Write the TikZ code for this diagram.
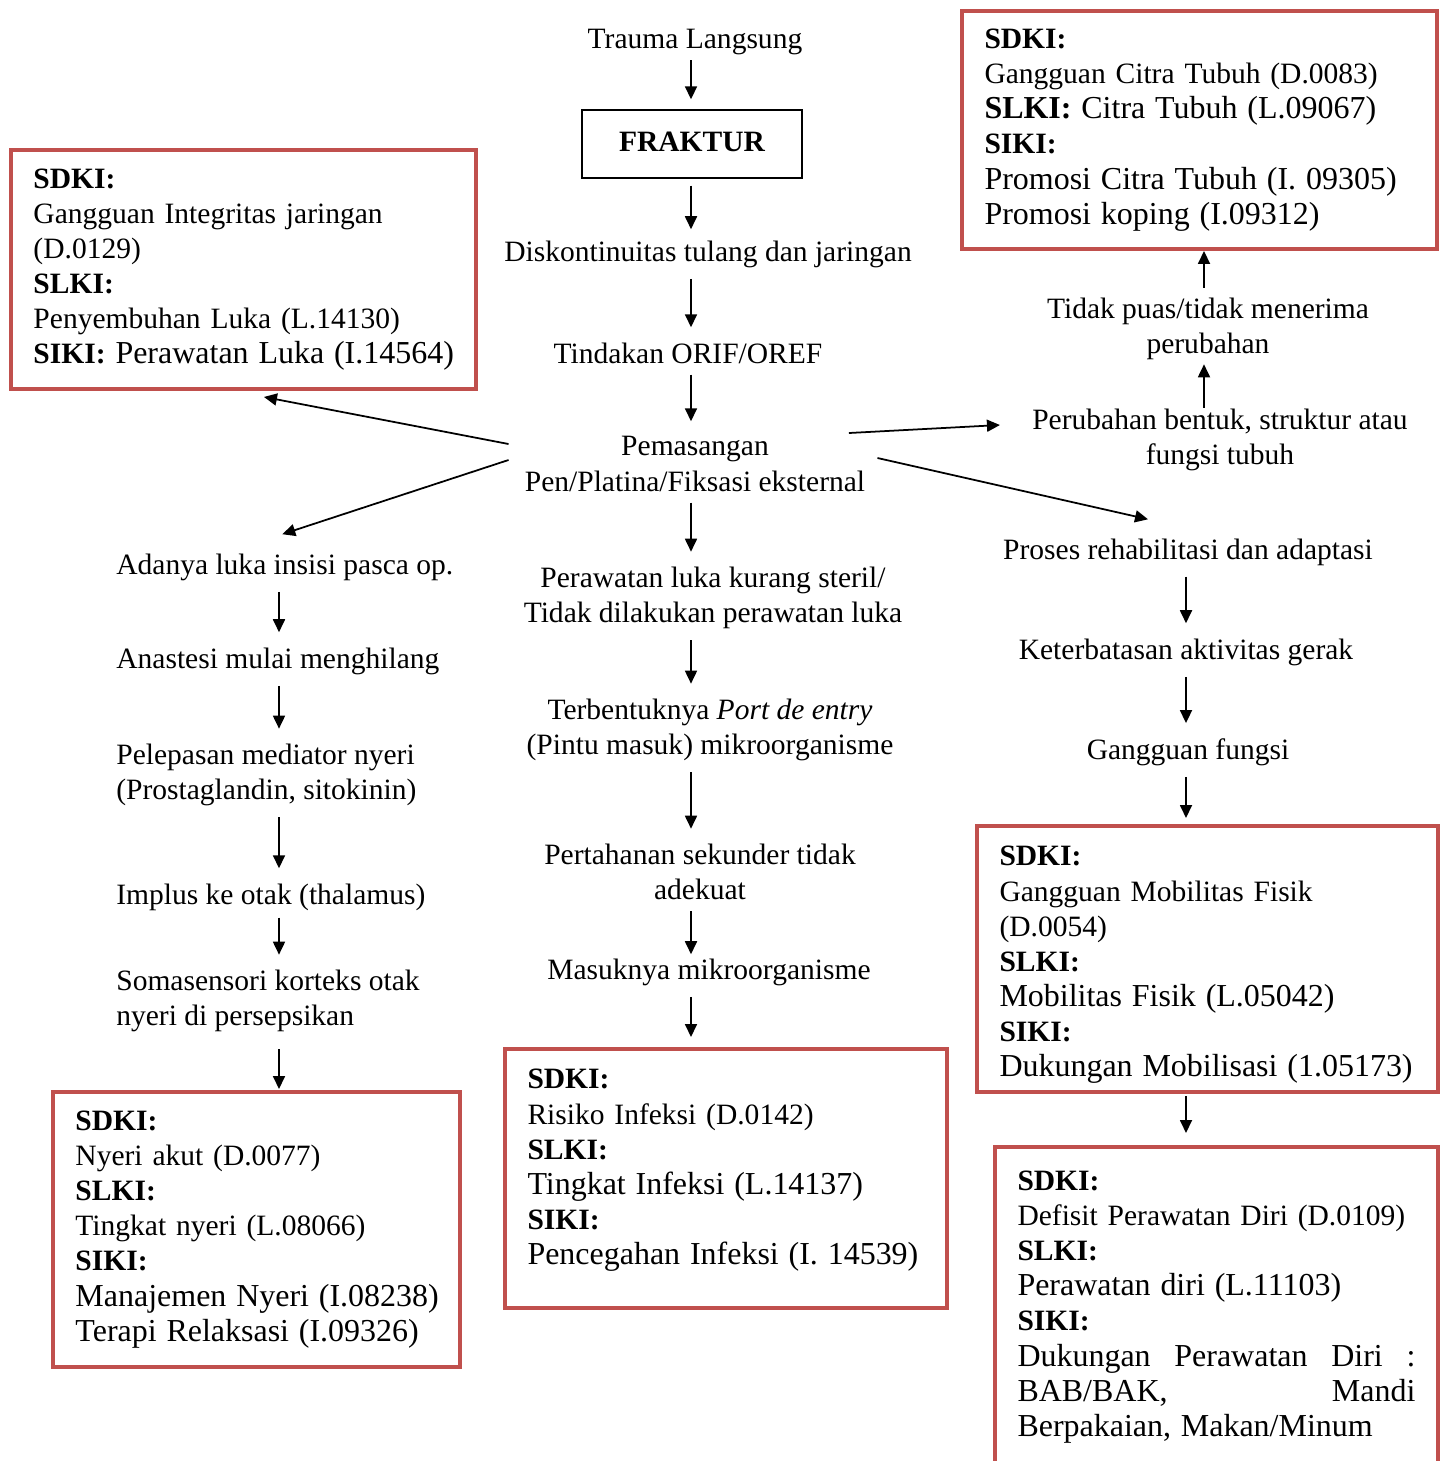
\documentclass[tikz,border=0pt]{standalone}
\usepackage{fontspec}
\setmainfont{Liberation Serif}
\usetikzlibrary{arrows.meta,positioning}
\definecolor{boxred}{RGB}{192,80,77}
\newcommand{\txtS}{\fontsize{16.8}{20}\selectfont}
\newcommand{\txtL}{\fontsize{18.2}{20}\selectfont}
\newcommand{\lineL}[1]{\mbox{\txtL #1}}

\begin{document}
\begin{tikzpicture}[
  x=0.02cm, y=-0.02cm,
  txt/.style={align=center, inner sep=0pt, font=\txtS},
  ltxt/.style={align=left, anchor=west, inner sep=0pt, font=\txtS},
  mainbox/.style={draw, line width=0.8pt, minimum width=4.4cm,
    minimum height=1.36cm, font=\txtS\bfseries},
  redbox/.style={draw=boxred, line width=0.08cm, anchor=north west,
    align=left, inner xsep=0.45cm, inner ysep=0pt, font=\txtS},
  arrow/.style={line width=1pt, -{Triangle[length=0.26cm,width=0.24cm]},
    shorten <=0.22cm, shorten >=0.3cm},
  link/.style={line width=1pt, -{Triangle[length=0.26cm,width=0.24cm]}}
]
  \useasboundingbox (0,0) rectangle (1443,1461);

  \coordinate (cx) at (691,0);
  \coordinate (lx) at (279,0);
  \coordinate (rx) at (1186,0);
  \coordinate (ux) at (1204,0);

  \node[txt]     (trauma)  at (695,42)  {Trauma Langsung};
  \node[mainbox] (fraktur) at (692,144) {\raisebox{0.1cm}{FRAKTUR}};
  \node[txt]     (disk)    at (708,254) {Diskontinuitas tulang dan jaringan};
  \node[txt]     (orif)    at (688,353) {Tindakan ORIF/OREF};
  \node[txt]     (pasang)  at (695,464) {Pemasangan\\Pen/Platina/Fiksasi eksternal};
  \node[txt]     (rawat)   at (713,598) {Perawatan luka kurang steril/\\Tidak dilakukan perawatan luka};
  \node[txt]     (port)    at (710,730) {Terbentuknya \textit{Port de entry}\\(Pintu masuk) mikroorganisme};
  \node[txt]     (tahan)   at (700,872) {Pertahanan sekunder tidak\\adekuat};
  \node[txt]     (masuk)   at (709,972) {Masuknya mikroorganisme};
  \node[redbox, text width=7.94cm, minimum width=8.84cm, minimum height=5.18cm]
    (bInfeksi) at (503,1047) {\textbf{SDKI:}\\Risiko Infeksi (D.0142)\\\textbf{SLKI:}\\
    \lineL{Tingkat Infeksi (L.14137)}\\\textbf{SIKI:}\\\lineL{Pencegahan Infeksi (I. 14539)}\\[-7pt]\mbox{}};

  \node[redbox, text width=8.4cm, minimum width=9.3cm, minimum height=4.78cm]
    (bLuka) at (9,148) {\textbf{SDKI:}\\Gangguan Integritas jaringan\\(D.0129)\\\textbf{SLKI:}\\
    Penyembuhan Luka (L.14130)\\\mbox{\textbf{SIKI:} \txtL Perawatan Luka (I.14564)}};
  \node[ltxt] (luka)     at (116,567)  {Adanya luka insisi pasca op.};
  \node[ltxt] (anastesi) at (116,661)  {Anastesi mulai menghilang};
  \node[ltxt] (mediator) at (116,775)  {Pelepasan mediator nyeri\\(Prostaglandin, sitokinin)};
  \node[ltxt] (implus)   at (116,897)  {Implus ke otak (thalamus)};
  \node[ltxt] (soma)     at (116,1001) {Somasensori korteks otak\\nyeri di persepsikan};
  \node[redbox, text width=7.24cm, minimum width=8.14cm, minimum height=5.5cm]
    (bNyeri) at (51,1090) {\textbf{SDKI:}\\Nyeri akut (D.0077)\\\textbf{SLKI:}\\Tingkat nyeri (L.08066)\\
    \textbf{SIKI:}\\\lineL{Manajemen Nyeri (I.08238)}\\\lineL{Terapi Relaksasi (I.09326)}};

  \node[redbox, text width=8.6cm, minimum width=9.5cm, minimum height=4.76cm]
    (bCitra) at (960,9) {\textbf{SDKI:}\\Gangguan Citra Tubuh (D.0083)\\
    \lineL{\textbf{SLKI:} Citra Tubuh (L.09067)}\\\textbf{SIKI:}\\
    \lineL{Promosi Citra Tubuh (I. 09305)}\\\lineL{Promosi koping (I.09312)}};
  \node[txt] (puas)     at (1208,329) {Tidak puas/tidak menerima\\perubahan};
  \node[txt] (bentuk)   at (1220,440) {Perubahan bentuk, struktur atau\\fungsi tubuh};
  \node[txt] (rehab)    at (1188,552) {Proses rehabilitasi dan adaptasi};
  \node[txt] (terbatas) at (1186,652) {Keterbatasan aktivitas gerak};
  \node[txt] (fungsi)   at (1188,752) {Gangguan fungsi};
  \node[redbox, text width=8.32cm, minimum width=9.22cm, minimum height=5.32cm]
    (bMobil) at (975,824) {\rule{0pt}{18pt}\textbf{SDKI:}\\Gangguan Mobilitas Fisik\\(D.0054)\\\textbf{SLKI:}\\
    \lineL{Mobilitas Fisik (L.05042)}\\\textbf{SIKI:}\\\lineL{Dukungan Mobilisasi (1.05173)}};
  \node[redbox, text width=7.96cm, minimum width=8.86cm, minimum height=6.4cm]
    (bDefisit) at (993,1145) {\textbf{SDKI:}\\Defisit Perawatan Diri (D.0109)\\\textbf{SLKI:}\\
    \lineL{Perawatan diri (L.11103)}\\\textbf{SIKI:}\\
    {\txtL Dukungan\hfill Perawatan\hfill Diri\hfill :}\\{\txtL BAB/BAK,\hfill Mandi}\\
    \lineL{Berpakaian, Makan/Minum}};

  \draw[arrow, shorten <=0.1cm, shorten >=0.2cm] (trauma.south -| cx) -- (fraktur.north -| cx);
  \draw[arrow, shorten <=0.14cm, shorten >=0.22cm] (fraktur.south -| cx) -- (disk.north -| cx);
  \draw[arrow] (disk.south -| cx) -- (orif.north -| cx);
  \draw[arrow] (orif.south -| cx) -- (pasang.north -| cx);
  \draw[arrow] (pasang.south -| cx) -- (rawat.north -| cx);
  \draw[arrow] (rawat.south -| cx) -- (port.north -| cx);
  \draw[arrow] (port.south -| cx) -- (tahan.north -| cx);
  \draw[arrow, shorten >=0.08cm] (tahan.south -| cx) -- (masuk.north -| cx);
  \draw[arrow, shorten >=0.2cm] (masuk.south -| cx) -- (bInfeksi.north -| cx);

  \draw[arrow] (luka.south -| lx) -- (anastesi.north -| lx);
  \draw[arrow] (anastesi.south -| lx) -- (mediator.north -| lx);
  \draw[arrow] (mediator.south -| lx) -- (implus.north -| lx);
  \draw[arrow, shorten <=0.14cm] (implus.south -| lx) -- (soma.north -| lx);
  \draw[arrow, shorten <=0.34cm, shorten >=0.02cm] (soma.south -| lx) -- (bNyeri.north -| lx);

  \draw[arrow] (rehab.south -| rx) -- (terbatas.north -| rx);
  \draw[arrow] (terbatas.south -| rx) -- (fungsi.north -| rx);
  \draw[arrow, shorten >=0.12cm] (fungsi.south -| rx) -- (bMobil.north -| rx);
  \draw[arrow, shorten <=0.04cm, shorten >=0.24cm] (bMobil.south -| rx) -- (bDefisit.north -| rx);
  \draw[arrow, shorten <=0.02cm, shorten >=0.08cm] (bentuk.north -| ux) -- (puas.south -| ux);
  \draw[arrow, shorten <=0.2cm, shorten >=0cm] (puas.north -| ux) -- (bCitra.south -| ux);

  \draw[link] ([xshift=-0.32cm,yshift=0.4cm]pasang.west) -- ([xshift=0.41cm,yshift=-0.12cm]bLuka.south);
  \draw[link] ([xshift=-0.32cm,yshift=0.08cm]pasang.west) -- ([xshift=-0.05cm,yshift=0.38cm]luka.north);
  \draw[link] ([xshift=-0.33cm,yshift=0.62cm]pasang.east) -- ([xshift=-0.64cm,yshift=0.3cm]bentuk.west);
  \draw[link] ([xshift=0.24cm,yshift=0.12cm]pasang.east) -- ([xshift=-0.8cm,yshift=0.38cm]rehab.north);
\end{tikzpicture}
\end{document}
